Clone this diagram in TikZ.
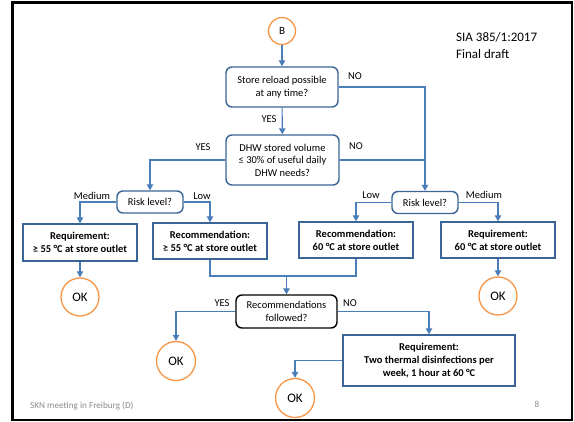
\documentclass[tikz,border=0pt]{standalone}
\usepackage{fontspec}
\setmainfont{Carlito}
\usetikzlibrary{arrows.meta}
\definecolor{lineblue}{HTML}{4A7EBB}
\definecolor{boxblue}{HTML}{3A6596}
\definecolor{okorange}{HTML}{F79646}
\definecolor{footgrey}{HTML}{8C8C8C}
\begin{document}
\begin{tikzpicture}[x=1pt,y=-1pt,
  every node/.style={inner sep=0pt, align=center},
  question/.style={draw=boxblue, line width=1.4pt, rounded corners=6pt, font=\fontsize{10.5}{12.5}\selectfont},
  riskbox/.style={question, minimum width=66pt, minimum height=22pt},
  rulebox/.style={draw=boxblue, line width=1.4pt, font=\bfseries\fontsize{10.5}{13}\selectfont},
  okcircle/.style={circle, draw=okorange, line width=1.3pt, minimum size=39pt, font=\fontsize{13}{15}\selectfont},
  lbl/.style={font=\fontsize{10.5}{12}\selectfont},
  link/.style={draw=lineblue, line width=1.1pt},
  flow/.style={link, -{Triangle[length=6pt,width=6.5pt]}}]
\useasboundingbox (0,0) rectangle (574,422);
\fill[white] (0,0) rectangle (574,422);
% slide frame
\draw[line width=3pt] (12.5,1) -- (12.5,421);
\draw[line width=2.5pt] (11,2.5) -- (573,2.5);
\draw[line width=2pt] (572,1) -- (572,421);
\draw[line width=2pt] (11,420) -- (573,420);

% header and footer
\node[anchor=north west, align=left, font=\fontsize{13}{17}\selectfont] (title) at (456,32) {SIA 385/1:2017\\Final draft};
\node[anchor=west, text=footgrey, font=\fontsize{9.2}{11}\selectfont] (foot) at (30,406) {SKN meeting in Freiburg (D)};
\node[text=footgrey, font=\fontsize{9.2}{11}\selectfont] (page) at (537,404) {8};

% nodes
\node[circle, draw=okorange, line width=1.3pt, minimum size=27pt, font=\fontsize{11}{13}\selectfont] (B) at (282,31) {B};
\node[question, minimum width=112pt, minimum height=40pt] (q1) at (282,87) {Store reload possible\\at any time?};
\node[question, minimum width=113pt, minimum height=50pt] (q2) at (282.5,160) {DHW stored volume\\≤ 30\% of useful daily\\DHW needs?};
\node[riskbox] (rl) at (150,202) {Risk level?};
\node[riskbox] (rr) at (425,202.5) {Risk level?};
\node[rulebox, minimum width=114pt, minimum height=37pt] (req1) at (80,242.5) {Requirement:\\≥ 55 °C at store outlet};
\node[rulebox, minimum width=114pt, minimum height=36pt] (rec1) at (210,241) {Recommendation:\\≥ 55 °C at store outlet};
\node[rulebox, minimum width=114pt, minimum height=36pt] (rec2) at (356,240) {Recommendation:\\60 °C at store outlet};
\node[rulebox, minimum width=114pt, minimum height=36pt] (req2) at (498,240) {Requirement:\\60 °C at store outlet};
\node[okcircle, minimum size=38pt] (ok1) at (80,297) {OK};
\node[okcircle, minimum size=38pt] (ok4) at (498,296) {OK};
\node[question, draw=black, minimum width=101pt, minimum height=33pt] (qf) at (286.5,311.5) {Recommendations\\followed?};
\node[okcircle] (ok2) at (176,361) {OK};
\node[rulebox, minimum width=172pt, minimum height=51pt] (req3) at (429,360.5) {Requirement:\\Two thermal disinfections per\\week, 1 hour at 60 °C};
\node[okcircle] (ok3) at (295,398) {OK};
\coordinate (merge) at (286.5,276);

% connectors
\draw[flow] (B) -- (q1);
\draw[flow] (q1) -- (q2);
\draw[flow] (q1.east) -| (rr.north);
\draw[link] (q2.east) -- (rr.north |- q2.east);
\draw[flow] (q2.west) -| (rl.north);
\draw[flow] (rl.west) -| (req1.north);
\draw[flow] (rl.east) -| (rec1.north);
\draw[flow] (rr.west) -| (rec2.north);
\draw[flow] (rr.east) -| (req2.north);
\draw[flow] (req1) -- (ok1);
\draw[flow] (req2) -- (ok4);
\draw[link] (rec1.south) |- (merge);
\draw[link] (rec2.south) |- (merge);
\draw[flow] (merge) -- (qf.north);
\draw[flow] (qf.west) -| (ok2.north);
\draw[flow] (qf.east) -| (req3.north);
\draw[flow] (req3.west) -| (ok3.north);

% branch labels
\node[lbl] (n1) at (355,76) {NO};
\node[lbl] (y1) at (269,119) {YES};
\node[lbl] (y2) at (203,147) {YES};
\node[lbl] (n2) at (356,146) {NO};
\node[lbl] (m1) at (92,196) {Medium};
\node[lbl] (l1) at (202,196) {Low};
\node[lbl] (l2) at (371,195) {Low};
\node[lbl] (m2) at (484,195) {Medium};
\node[lbl] (y3) at (222,303) {YES};
\node[lbl] (n3) at (350,303) {NO};
\end{tikzpicture}
\end{document}
